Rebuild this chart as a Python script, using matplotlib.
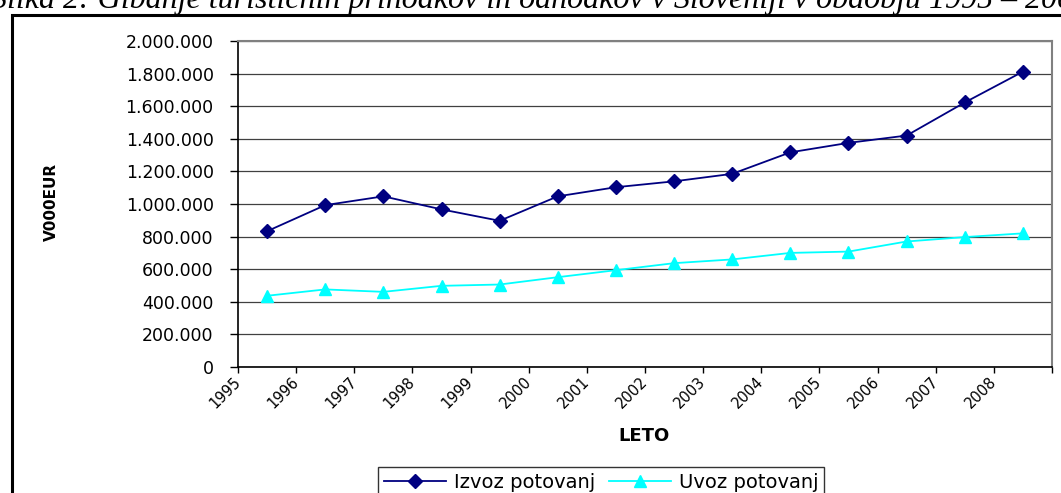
import matplotlib
matplotlib.use("Agg")
import matplotlib.pyplot as plt
from matplotlib.patches import Rectangle
from matplotlib.ticker import FuncFormatter, FixedLocator

# ---------------- DATA ----------------
years = ["1995", "1996", "1997", "1998", "1999", "2000", "2001",
         "2002", "2003", "2004", "2005", "2006", "2007", "2008"]
izvoz = [833000, 993000, 1047000, 967000, 897000, 1047000, 1103000,
         1139000, 1185000, 1317000, 1375000, 1420000, 1623000, 1812000]
uvoz = [437000, 476000, 461000, 498000, 506000, 551000, 594000,
        637000, 660000, 700000, 708000, 770000, 797000, 820000]

title = "Slika 2: Gibanje turističnih prihodkov in odhodkov v Sloveniji v obdobju 1995 – 2008"

plt.rcParams['font.family'] = ['DejaVu Sans']

W, H = 1061, 493
fig = plt.figure(figsize=(W / 100, H / 100), dpi=100)

# chart border (cut off at right and bottom)
fig.add_artist(Rectangle((12 / W, -0.1), 1.2, (H - 15) / H + 0.1,
                         transform=fig.transFigure, fill=False,
                         ec="black", lw=2.2, clip_on=False))

# caption, partly cut at the top of the picture
fig.text(-9 / W, (H - 8) / H, title, family="Liberation Serif",
         style="italic", fontsize=23, ha="left", va="baseline")

ax = fig.add_axes([238 / W, 126 / H, 814 / W, 326 / H])

x = list(range(len(years)))
ax.plot(x, izvoz, color="#000080", lw=1.3, marker="D", ms=7,
        label="Izvoz potovanj", zorder=3)
ax.plot(x, uvoz, color="#00FFFF", lw=1.3, marker="^", ms=9,
        label="Uvoz potovanj", zorder=3)

ax.set_xlim(-0.5, len(years) - 0.5)
ax.set_ylim(0, 2000000)
ax.set_yticks(range(0, 2000001, 200000))
ax.yaxis.set_major_formatter(FuncFormatter(lambda v, p: f"{int(v):,}".replace(",", ".")))
ax.grid(axis="y", color="#404040", lw=0.9)
ax.set_axisbelow(True)

# category axis: ticks and labels on the boundaries
bounds = [i - 0.5 for i in range(len(years) + 1)]
ax.xaxis.set_major_locator(FixedLocator(bounds))
ax.set_xticklabels(years + [""], rotation=45, ha="right", va="center",
                   rotation_mode="anchor", fontsize=10.5)

ax.tick_params(axis="y", length=6, width=1, pad=11.5, labelsize=12.5)
ax.tick_params(axis="x", length=4, width=1, pad=5)

for s in ["top", "right"]:
    ax.spines[s].set_color("#808080")
    ax.spines[s].set_linewidth(1.5)
for s in ["left", "bottom"]:
    ax.spines[s].set_color("black")
    ax.spines[s].set_linewidth(1.2)

fig.text(644 / W, (H - 436) / H, "LETO", fontsize=13, fontweight="bold",
         ha="center", va="center")
fig.text(51 / W, (H - 202) / H, "V000EUR", fontsize=11, fontweight="bold",
         rotation=90, ha="center", va="center")

leg = fig.legend(loc="upper left", bbox_to_anchor=(378 / W, (H - 467) / H),
                 ncol=2, fontsize=14, frameon=True, fancybox=False,
                 edgecolor="black", handlelength=3.2, handletextpad=0.4,
                 columnspacing=0.7, borderpad=0.3, borderaxespad=0,
                 numpoints=1)
leg.get_frame().set_linewidth(1.0)

plt.savefig("out.png", dpi=100)
plt.close()
